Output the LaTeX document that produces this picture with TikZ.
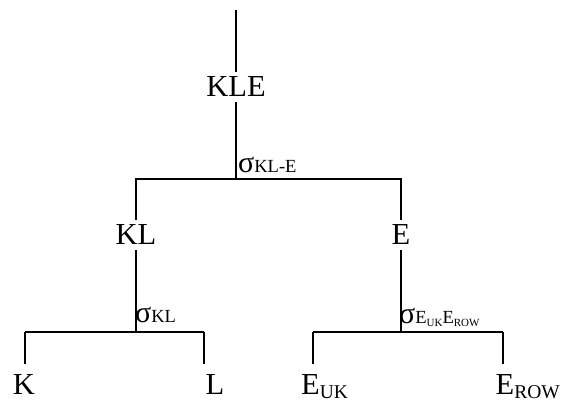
\documentclass[tikz,border=0pt]{standalone}
\usepackage{fontspec}
\setmainfont{Liberation Serif}
% sizes used by the labels of the nesting tree
\newcommand\sigm{{\fontsize{30}{30}\selectfont σ}}
\newcommand\bsub[1]{\raisebox{-4pt}{\fontsize{19.5}{19.5}\selectfont #1}}
\newcommand\ssub[1]{\raisebox{-2.5pt}{\fontsize{11}{11}\selectfont #1}}
\begin{document}
\begin{tikzpicture}[x=1pt,y=1pt,
  lbl/.style={font=\fontsize{30.5}{30.5}\selectfont, inner xsep=0pt, inner ysep=5pt,
    text height=20.2pt, text depth=0pt, anchor=base},
  leaf/.style={lbl, inner ysep=0pt, text depth=4pt},
  leafw/.style={leaf, anchor=base west},
  siglbl/.style={inner sep=0pt, anchor=base west, font=\fontsize{18.5}{18.5}\selectfont},
  wire/.style={line width=1.9pt},
  stub/.style={wire, shorten <=11pt}]
\useasboundingbox (0,0) rectangle (566,403);

% top level
\coordinate (top) at (236,393);
\node[lbl] (KLE) at (236,306) {KLE};
\coordinate (j1) at (236,224);
\coordinate (b1l) at (136,224);
\coordinate (b1r) at (401,224);
\node[siglbl] (sKLE) at (238,230) {\sigm KL-E};

% second level
\node[lbl] (KL) at (136,158) {KL};
\node[lbl] (E) at (401,158) {E};
\coordinate (j2) at (136,71);
\coordinate (b2l) at (25,71);
\coordinate (b2r) at (204,71);
\coordinate (j3) at (401,71);
\coordinate (b3l) at (313,71);
\coordinate (b3r) at (503,71);
\node[siglbl] (sKL) at (135,80) {\sigm KL};
\node[siglbl] (sE) at (399,79) {\sigm E\ssub{UK}E\ssub{ROW}};

% leaves
\node[leaf] (K) at (24,8) {K};
\node[leaf] (L) at (215,8) {L};
\node[leafw] (EUK) at (301,8) {E\bsub{UK}};
\node[leafw] (EROW) at (495.5,8) {E\bsub{ROW}};

% connectors
\draw[wire] (top) -- (KLE.north);
\draw[wire] (KLE.south) -- (j1);
\draw[wire] (KL.north) -- (b1l) -- (b1r) -- (E.north);
\draw[wire] (KL.south) -- (j2);
\draw[wire] (E.south) -- (j3);
\draw[wire] (b2l) -- (b2r);
\draw[wire] (b3l) -- (b3r);
\draw[stub] (b2l |- K.north) -- (b2l);
\draw[stub] (b2r |- L.north) -- (b2r);
\draw[stub] (b3l |- EUK.north) -- (b3l);
\draw[stub] (b3r |- EROW.north) -- (b3r);
\end{tikzpicture}
\end{document}
